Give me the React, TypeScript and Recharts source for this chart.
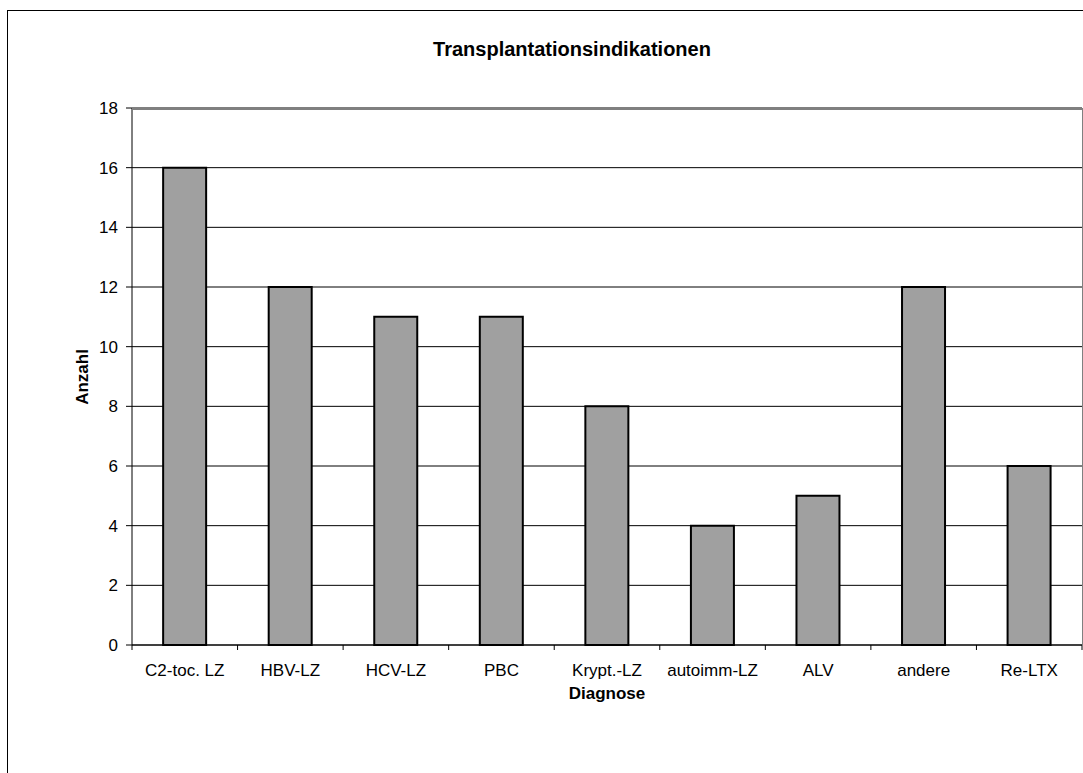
import React from 'react';
import { BarChart, Bar, XAxis, YAxis, CartesianGrid } from 'recharts';

const diagnosen = ['C2-toc. LZ', 'HBV-LZ', 'HCV-LZ', 'PBC', 'Krypt.-LZ', 'autoimm-LZ', 'ALV', 'andere', 'Re-LTX'];
const anzahl = [16, 12, 11, 11, 8, 4, 5, 12, 6];
const yTicks = [0, 2, 4, 6, 8, 10, 12, 14, 16, 18];

const data = diagnosen.map((name, i) => ({ name, anzahl: anzahl[i] }));

const FONT = "Arial, 'Liberation Sans', sans-serif";
const W = 1083;
const H = 773;
const PLOT_LEFT = 132;
const PLOT_RIGHT = 1082;
const PLOT_TOP = 108;
const PLOT_BOTTOM = 645;
const BAND = (PLOT_RIGHT - PLOT_LEFT) / diagnosen.length;

// Beschriftung in der Mitte, Teilstriche an den Kategoriegrenzen (wie in Excel)
const CategoryTick = (props: any) => {
  const { x, payload, index } = props;
  const left = x - BAND / 2;
  const right = x + BAND / 2;
  return (
    <g>
      <line x1={left} x2={left} y1={PLOT_BOTTOM} y2={PLOT_BOTTOM + 5} stroke="#000" />
      {index === diagnosen.length - 1 && (
        <line x1={right} x2={right} y1={PLOT_BOTTOM} y2={PLOT_BOTTOM + 5} stroke="#000" />
      )}
      <text x={x} y={676} textAnchor="middle" fontSize={17} fontFamily={FONT} fill="#000">
        {payload.value}
      </text>
    </g>
  );
};

export default function App() {
  return (
    <div style={{ position: 'fixed', left: 0, top: 0, width: W, height: H, overflow: 'hidden', background: '#fff' }}>
      <div
        style={{
          position: 'absolute',
          left: 7,
          top: 10,
          width: 2000,
          height: 2000,
          border: '1px solid #000',
        }}
      />
      <div style={{ position: 'absolute', left: 0, top: 0 }}>
        <BarChart
          width={W}
          height={H}
          data={data}
          margin={{ top: PLOT_TOP, right: W - PLOT_RIGHT, bottom: 0, left: 0 }}
          barCategoryGap="29.5%"
        >
          <CartesianGrid vertical={false} stroke="#000" strokeDasharray="" />
          <XAxis
            dataKey="name"
            height={H - PLOT_BOTTOM}
            axisLine={{ stroke: '#000' }}
            tickLine={false}
            tick={<CategoryTick />}
            interval={0}
          />
          <YAxis
            width={PLOT_LEFT}
            domain={[0, 18]}
            ticks={yTicks}
            interval={0}
            axisLine={{ stroke: '#000' }}
            tickLine={{ stroke: '#000' }}
            tickSize={6}
            tickMargin={8}
            tick={{ fontSize: 17, fontFamily: FONT, fill: '#000' }}
          />
          <Bar dataKey="anzahl" fill="#a0a0a0" stroke="#000" strokeWidth={2} isAnimationActive={false} />
        </BarChart>
      </div>
      {/* grauer Rahmen der Zeichnungsfläche oben und rechts */}
      <div
        style={{
          position: 'absolute',
          left: PLOT_LEFT,
          top: PLOT_TOP - 0.5,
          width: PLOT_RIGHT - PLOT_LEFT,
          height: PLOT_BOTTOM - PLOT_TOP,
          borderTop: '2px solid #808080',
          borderRight: '2px solid #808080',
          pointerEvents: 'none',
        }}
      />
      <svg width={W} height={H} style={{ position: 'absolute', left: 0, top: 0, pointerEvents: 'none' }}>
        <text x={572} y={56} textAnchor="middle" fontSize={20} fontWeight="bold" fontFamily={FONT} fill="#000">
          Transplantationsindikationen
        </text>
        <text x={607} y={699} textAnchor="middle" fontSize={17} fontWeight="bold" fontFamily={FONT} fill="#000">
          Diagnose
        </text>
        <text
          transform="translate(88, 377) rotate(-90)"
          textAnchor="middle"
          fontSize={17}
          fontWeight="bold"
          fontFamily={FONT}
          fill="#000"
        >
          Anzahl
        </text>
      </svg>
    </div>
  );
}
